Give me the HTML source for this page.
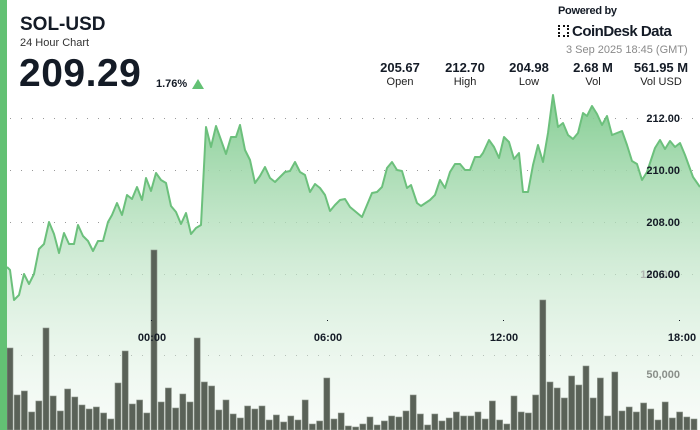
<!DOCTYPE html>
<html><head><meta charset="utf-8">
<style>
html,body{margin:0;padding:0;background:#fff;}
body{width:700px;height:430px;position:relative;overflow:hidden;font-family:"Liberation Sans","DejaVu Sans",sans-serif;color:#141b26;}
.a{position:absolute;white-space:nowrap;}
.st{position:absolute;text-align:center;width:80px;}
.st b{display:block;font-size:13px;line-height:15px;}
.st span{display:block;font-size:11px;line-height:14px;color:#222;}
</style></head><body>
<svg id="c" width="700" height="430" style="position:absolute;left:0;top:0">
<defs>
<linearGradient id="g" x1="0" y1="95" x2="0" y2="430" gradientUnits="userSpaceOnUse">
<stop offset="0" stop-color="#7fcb8e" stop-opacity="0.95"/>
<stop offset="0.5" stop-color="#bfe4c6" stop-opacity="0.7"/>
<stop offset="1" stop-color="#e8f5ea" stop-opacity="0.3"/>
</linearGradient>
</defs>
<g id="grid"></g>
<path id="area" fill="url(#g)"/>
<g id="bars"></g>
<path id="line" fill="none" stroke="#6cc07c" stroke-width="2" stroke-linejoin="round"/>
<rect x="0" y="0" width="7" height="430" fill="#63c174"/>
<g font-family="Liberation Sans, sans-serif" font-weight="bold" font-size="11" text-anchor="end">
<text x="680" y="378" fill="#8a8f8a" font-size="11">50,000</text>
<text x="680" y="278" fill="#b0b4b0">100,000</text>
<text x="680" y="122" fill="#141b26">212.00</text>
<text x="680" y="174" fill="#141b26">210.00</text>
<text x="680" y="226" fill="#141b26">208.00</text>
<text x="680" y="278" fill="#141b26">206.00</text>
</g>
<g font-family="Liberation Sans, sans-serif" font-weight="bold" font-size="11" text-anchor="middle" fill="#141b26">
<text x="152" y="341">00:00</text><text x="328" y="341">06:00</text><text x="504" y="341">12:00</text><text x="682" y="341">18:00</text>
<rect x="151" y="320" width="1" height="1"/><rect x="327" y="320" width="1" height="1"/><rect x="503" y="320" width="1" height="1"/><rect x="679" y="320" width="1" height="1"/>
</g>
</svg>
<div class="a" style="left:20px;top:14px;font-size:19px;font-weight:bold;">SOL-USD</div>
<div class="a" style="left:20px;top:37px;font-size:11px;color:#333;">24 Hour Chart</div>
<div class="a" style="left:19px;top:52px;font-size:39px;font-weight:bold;letter-spacing:0.5px;">209.29</div>
<div class="a" style="left:156px;top:78px;font-size:11px;font-weight:bold;">1.76%</div>
<div class="a" style="left:192px;top:79px;width:0;height:0;border-left:6px solid transparent;border-right:6px solid transparent;border-bottom:10px solid #63c174;"></div>
<div class="st" style="left:360px;top:60px"><b>205.67</b><span>Open</span></div>
<div class="st" style="left:425px;top:60px"><b>212.70</b><span>High</span></div>
<div class="st" style="left:489px;top:60px"><b>204.98</b><span>Low</span></div>
<div class="st" style="left:553px;top:60px"><b>2.68 M</b><span>Vol</span></div>
<div class="st" style="left:621px;top:60px"><b>561.95 M</b><span>Vol USD</span></div>
<div class="a" style="left:558px;top:5px;font-size:11px;font-weight:bold;letter-spacing:-0.3px;">Powered by</div>
<div class="a" style="left:558px;top:23px;font-size:15px;font-weight:bold;letter-spacing:-0.5px;"><span style="display:inline-block;width:11px;height:12px;border:2px dotted #111;box-sizing:border-box;margin-right:3px;vertical-align:-1px"></span>CoinDesk Data</div>
<div class="a" style="left:566px;top:44px;font-size:11px;color:#8a8a8a;">3 Sep 2025 18:45 (GMT)</div>
<script>
var P=[[7,267],[10,270],[14,300],[19,295],[24,274],[29,284],[34,274],[39,249],[44,244],[49,222],[54,234],[59,253],[64,233],[69,244],[74,244],[78,225],[83,236],[88,241],[93,251],[98,241],[103,241],[108,222],[112,215],[117,203],[122,215],[127,195],[132,199],[137,187],[142,200],[146,178],[151,191],[156,173],[161,180],[166,183],[171,206],[176,212],[181,224],[186,213],[191,234],[196,228],[201,225],[206,127],[211,147],[216,126],[221,140],[226,154],[231,137],[236,137],[240,125],[245,150],[250,160],[255,183],[260,176],[265,167],[270,178],[275,182],[280,177],[285,172],[290,171],[295,162],[300,172],[305,175],[310,192],[315,184],[320,188],[325,195],[330,211],[335,205],[340,200],[345,199],[350,207],[362,217],[372,193],[377,192],[382,187],[387,168],[392,162],[397,170],[402,171],[407,188],[411,185],[417,203],[421,206],[430,200],[435,195],[440,180],[445,188],[450,172],[455,164],[460,164],[465,170],[470,170],[475,157],[480,157],[483,153],[489,140],[494,147],[499,158],[504,137],[509,142],[514,159],[519,153],[523,192],[528,192],[533,165],[538,145],[543,162],[548,133],[553,95],[558,127],[563,123],[568,135],[573,139],[578,133],[583,113],[587,116],[592,106],[597,114],[602,125],[607,116],[612,135],[622,131],[627,145],[632,161],[637,164],[642,180],[647,172],[655,148],[660,140],[665,149],[670,141],[675,147],[680,143],[685,155],[693,177],[700,187]];
var d=P.map(function(p,i){return (i?'L':'M')+p[0]+','+p[1]}).join('');
document.getElementById('line').setAttribute('d',d);
document.getElementById('area').setAttribute('d',d+'L700,430L7,430Z');
var ns='http://www.w3.org/2000/svg',g=document.getElementById('grid');
[118,170,222,274,355].forEach(function(y){for(var x=10;x<695;x+=11){var r=document.createElementNS(ns,'rect');r.setAttribute('x',x);r.setAttribute('y',y);r.setAttribute('width',1);r.setAttribute('height',1);r.setAttribute('fill','#999');g.appendChild(r);}});
var H=[348,395,391,412,401,328,396,411,389,397,405,409,407,413,419,383,351,404,400,413,250,402,388,408,394,402,338,382,386,410,400,414,418,406,409,406,420,415,422,416,420,400,424,421,378,419,413,426,427,424,417,425,421,416,417,411,395,414,425,414,421,418,412,416,416,412,419,401,420,424,396,412,413,395,300,382,388,398,376,385,366,398,378,416,372,411,407,412,403,409,420,402,418,412,417,419,409,402];
var b=document.getElementById('bars');
for(var i=0;i<H.length;i++){var x=7+i*7.2;if(x>696)break;var r=document.createElementNS(ns,'rect');r.setAttribute('x',x.toFixed(1));r.setAttribute('y',H[i]);r.setAttribute('width',6);r.setAttribute('height',430-H[i]);r.setAttribute('fill','#5a6258');r.setAttribute('stroke','#8e968c');r.setAttribute('stroke-width','0.6');b.appendChild(r);}
</script>
</body></html>
